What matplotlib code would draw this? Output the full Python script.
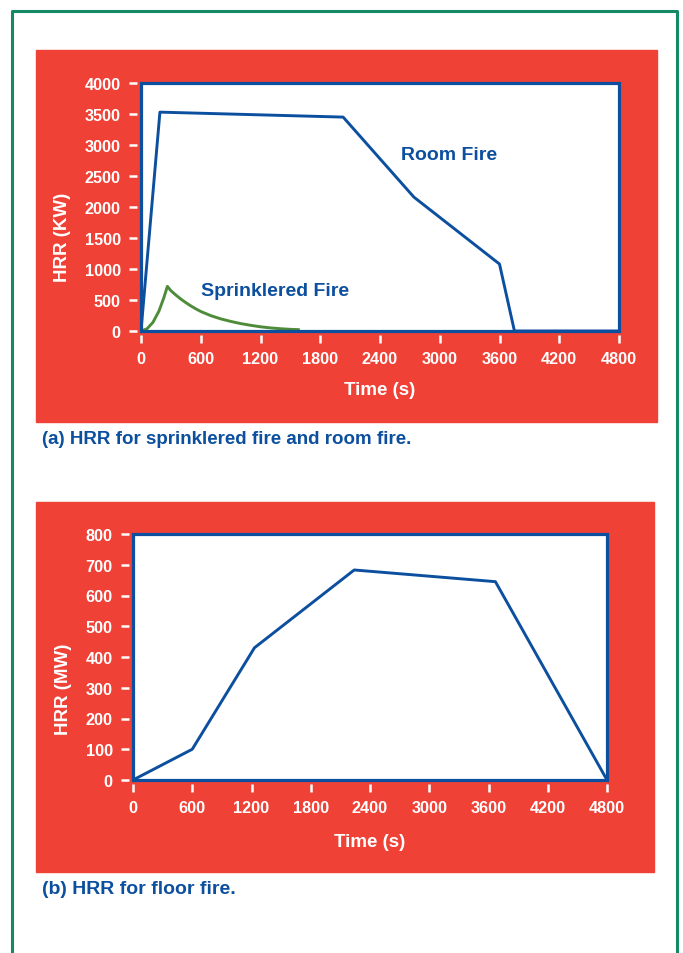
import matplotlib
matplotlib.use('Agg')
import matplotlib.pyplot as plt
from matplotlib.patches import Rectangle
from matplotlib.lines import Line2D

plt.rcParams['font.family'] = ['Liberation Sans', 'DejaVu Sans']
plt.rcParams['font.weight'] = 'bold'
plt.rcParams['axes.labelweight'] = 'bold'

# (a) room fire and sprinklered fire, HRR in kW
room_t = [0, 190, 2030, 2740, 3600, 3750, 4800]
room_q = [0, 3530, 3450, 2160, 1080, 0, 0]
spr_t = [0, 60, 120, 180, 230, 265, 300, 350, 400, 450, 500, 550, 600, 700, 800, 900,
         1000, 1100, 1200, 1300, 1400, 1500, 1580]
spr_q = [0, 35, 140, 320, 540, 720, 650, 580, 515, 458, 405, 358, 315, 248, 196, 155,
         120, 92, 68, 50, 37, 27, 22]
yticks_a = [0, 500, 1000, 1500, 2000, 2500, 3000, 3500, 4000]

# (b) floor fire, HRR in MW
floor_t = [0, 600, 1230, 2240, 3670, 4800]
floor_q = [0, 100, 430, 683, 645, 0]
yticks_b = [0, 100, 200, 300, 400, 500, 600, 700, 800]

xticks = [0, 600, 1200, 1800, 2400, 3000, 3600, 4200, 4800]

W, H = 683, 954
RED = '#ef4136'
BLUE = '#0b4f9e'
GREEN = '#4e8c3a'
BORDER = '#138a63'


def box(x0, y0, x1, y1):
    # pixel box (top-left origin) -> figure fraction [l, b, w, h]
    return [x0 / W, 1 - y1 / H, (x1 - x0) / W, (y1 - y0) / H]


def style(ax, yticks, ylabel, ylab_xy, xlab_y):
    ax.set_xlim(0, 4800)
    ax.set_xticks(xticks)
    ax.set_ylim(yticks[0], yticks[-1])
    ax.set_yticks(yticks)
    for s in ax.spines.values():
        s.set_visible(False)
    ax.spines['left'].set_position(('outward', 3))
    ax.spines['bottom'].set_position(('outward', 3))
    ax.tick_params(colors='white', length=5.5, width=1.8, labelsize=11.7, pad=6)
    ax.add_patch(Rectangle((0, 0), 1, 1, transform=ax.transAxes, fill=False,
                           ec=BLUE, lw=2.3, zorder=5, clip_on=False))
    ax.set_xlabel('Time (s)', color='white', fontsize=13.5, fontweight='bold')
    ax.xaxis.set_label_coords(0.5, xlab_y)
    ax.set_ylabel(ylabel, color='white', fontsize=13.5, fontweight='bold')
    ax.yaxis.set_label_coords(*ylab_xy)


fig = plt.figure(figsize=(6.83, 9.54), dpi=100)

# red background panels
for b in [box(36, 51, 657, 423), box(36, 503, 654, 873)]:
    fig.add_artist(Rectangle((b[0], b[1]), b[2], b[3], color=RED,
                             transform=fig.transFigure, zorder=0))

# green page border (open at the bottom)
fig.add_artist(Line2D([12 / W, 12 / W, 677 / W, 677 / W], [0, 1 - 12 / H, 1 - 12 / H, 0],
                      color=BORDER, lw=2.2, transform=fig.transFigure))

# panel (a)
ax1 = fig.add_axes(box(141, 84, 619, 332))
ax1.plot(room_t, room_q, color=BLUE, lw=2.1, zorder=3)
ax1.plot(spr_t, spr_q, color=GREEN, lw=2.1, zorder=3)
style(ax1, yticks_a, 'HRR (KW)', (-0.146, 0.381), -0.2)
ax1.text(0.544, 0.71, 'Room Fire', transform=ax1.transAxes, color=BLUE,
         fontsize=14, va='center', ha='left')
ax1.text(0.1255, 0.165, 'Sprinklered Fire', transform=ax1.transAxes, color=BLUE,
         fontsize=14, va='center', ha='left')

# panel (b)
ax2 = fig.add_axes(box(133, 535, 607, 781))
ax2.plot(floor_t, floor_q, color=BLUE, lw=2.1, zorder=3)
style(ax2, yticks_b, 'HRR (MW)', (-0.129, 0.374), -0.215)

fig.text(42 / W, 1 - 440 / H, '(a) HRR for sprinklered fire and room fire.',
         color=BLUE, fontsize=13.5, va='center', ha='left')
fig.text(42 / W, 1 - 890 / H, '(b) HRR for floor fire.',
         color=BLUE, fontsize=14, va='center', ha='left')

fig.savefig('out.png', dpi=100)
